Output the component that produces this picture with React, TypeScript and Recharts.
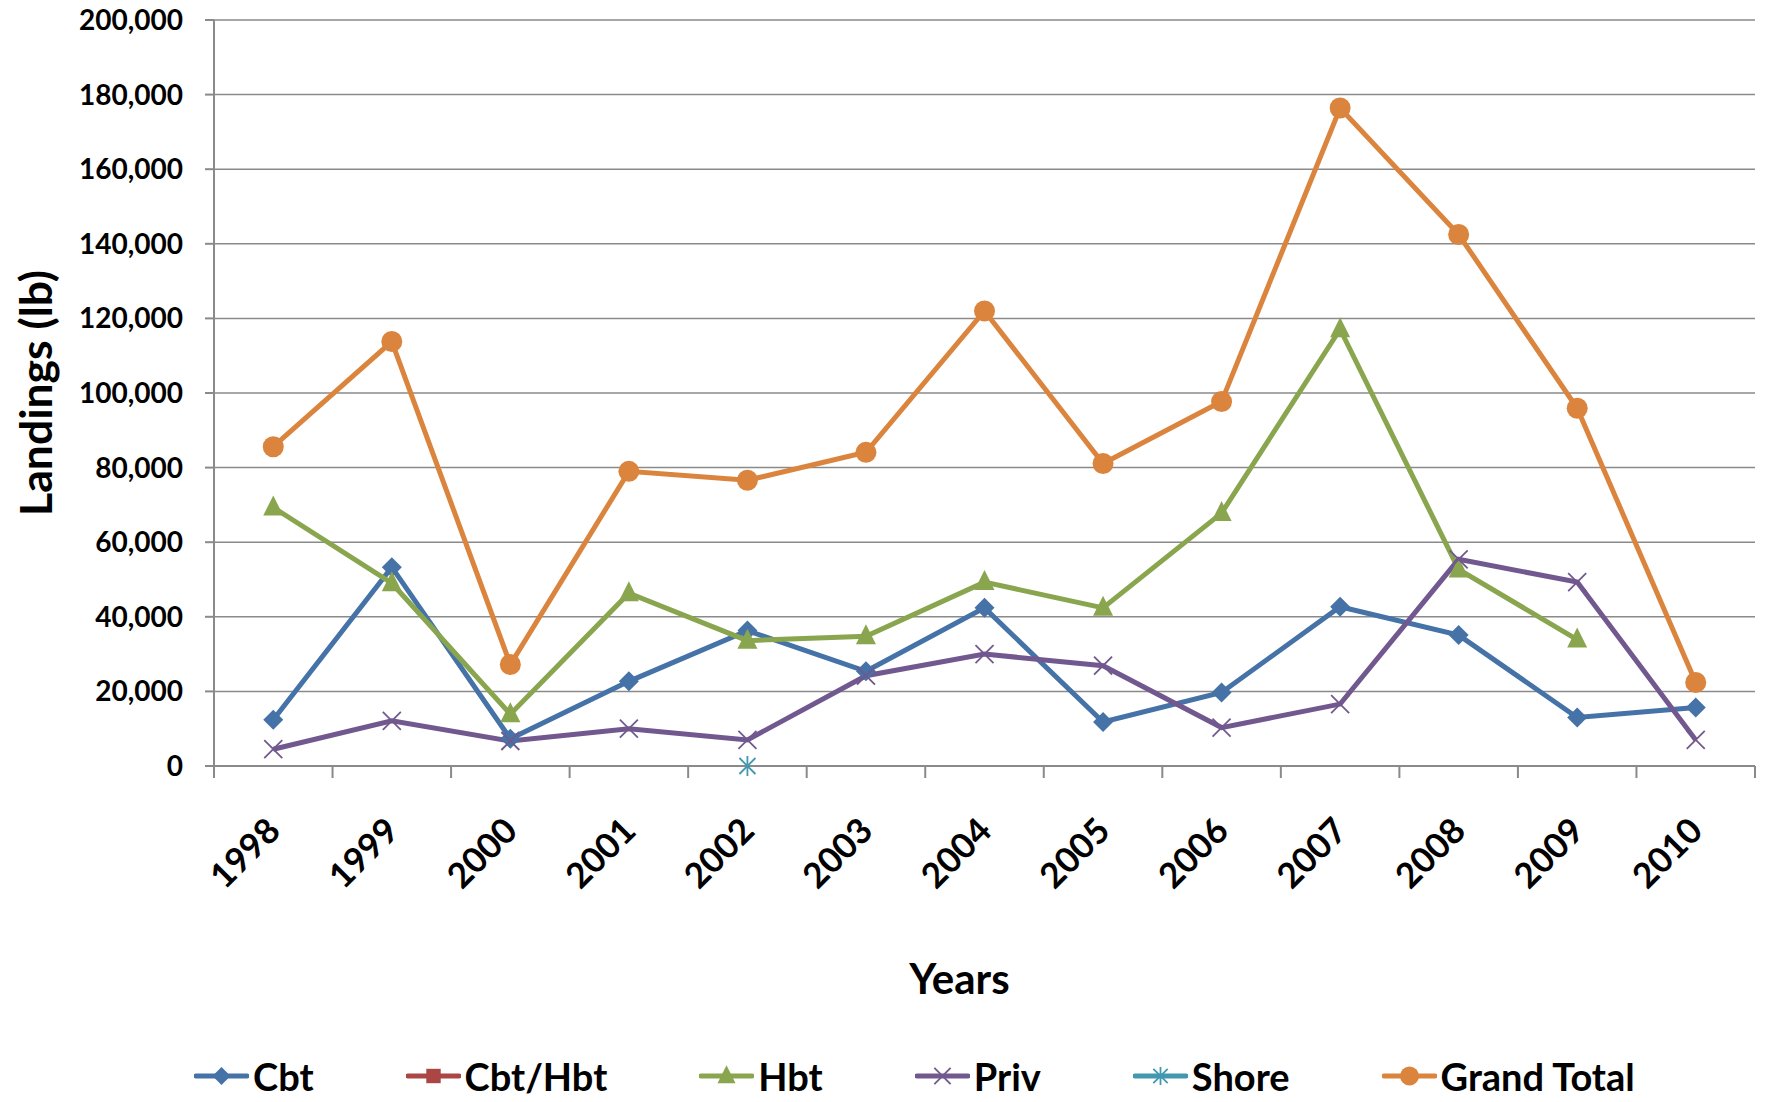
import { CartesianGrid, Line, LineChart, XAxis, YAxis } from "recharts"

const years = ["1998", "1999", "2000", "2001", "2002", "2003", "2004", "2005", "2006", "2007", "2008", "2009", "2010"]
const cbt = [12400, 53300, 7300, 22700, 36300, 25400, 42400, 11800, 19700, 42700, 35100, 13000, 15700]
const cbtHbt = [null, null, null, null, null, null, null, null, null, null, null, null, null]
const hbt = [69300, 49000, 13900, 46300, 33600, 34800, 49300, 42400, 67800, 117100, 52700, 33900, null]
const priv = [4500, 12100, 6700, 10000, 7000, 24200, 30000, 26900, 10300, 16600, 55400, 49300, 7000]
const shore = [null, null, null, null, 0, null, null, null, null, null, null, null, null]
const grandTotal = [85600, 113800, 27200, 79000, 76600, 84100, 122000, 81100, 97700, 176400, 142500, 95900, 22400]
const yTicks = [0, 20000, 40000, 60000, 80000, 100000, 120000, 140000, 160000, 180000, 200000]

const FONT = "Lato, 'Open Sans', sans-serif"
const GRID = "#8a8a8a"
const PLOT_W = 1769 - 214 - 14

type Marker = "diamond" | "square" | "triangle" | "x" | "star" | "circle"

const series: { key: string; name: string; color: string; marker: Marker }[] = [
  { key: "cbt", name: "Cbt", color: "#4572A7", marker: "diamond" },
  { key: "cbtHbt", name: "Cbt/Hbt", color: "#AA4643", marker: "square" },
  { key: "hbt", name: "Hbt", color: "#89A54E", marker: "triangle" },
  { key: "priv", name: "Priv", color: "#71588F", marker: "x" },
  { key: "shore", name: "Shore", color: "#4198AF", marker: "star" },
  { key: "grandTotal", name: "Grand Total", color: "#DB843D", marker: "circle" },
]

const data = years.map((year, i) => ({
  year,
  cbt: cbt[i],
  cbtHbt: cbtHbt[i],
  hbt: hbt[i],
  priv: priv[i],
  shore: shore[i],
  grandTotal: grandTotal[i],
}))

function markerShape(marker: Marker, color: string, cx: number, cy: number, s = 1) {
  switch (marker) {
    case "diamond":
      return <polygon points={`${cx},${cy - 10 * s} ${cx + 10 * s},${cy} ${cx},${cy + 10 * s} ${cx - 10 * s},${cy}`} fill={color} />
    case "square":
      return <rect x={cx - 8 * s} y={cy - 8 * s} width={16 * s} height={16 * s} fill={color} />
    case "triangle":
      return <polygon points={`${cx},${cy - 12 * s} ${cx + 10 * s},${cy + 8 * s} ${cx - 10 * s},${cy + 8 * s}`} fill={color} />
    case "x":
      return (
        <g stroke={color} strokeWidth={1.8}>
          <line x1={cx - 9 * s} y1={cy - 9 * s} x2={cx + 9 * s} y2={cy + 9 * s} />
          <line x1={cx - 9 * s} y1={cy + 9 * s} x2={cx + 9 * s} y2={cy - 9 * s} />
        </g>
      )
    case "star":
      return (
        <g stroke={color} strokeWidth={1.8}>
          <line x1={cx - 8 * s} y1={cy - 8 * s} x2={cx + 8 * s} y2={cy + 8 * s} />
          <line x1={cx - 8 * s} y1={cy + 8 * s} x2={cx + 8 * s} y2={cy - 8 * s} />
          <line x1={cx} y1={cy - 10 * s} x2={cx} y2={cy + 10 * s} />
        </g>
      )
    default:
      return <circle cx={cx} cy={cy} r={10.5 * s} fill={color} />
  }
}

const makeDot = (marker: Marker, color: string) => (props: any) => {
  const { cx, cy, index, value } = props
  if (value == null || cx == null || cy == null) return <g key={`e-${index}`} />
  return <g key={`d-${index}`}>{markerShape(marker, color, cx, cy)}</g>
}

// category label plus Excel-style tick marks on the category edges
function YearTick(props: any) {
  const { x, y, payload, index, visibleTicksCount } = props
  const count = visibleTicksCount || years.length
  const band = (typeof props.width === "number" && props.width > 0 ? props.width : PLOT_W) / count
  const left = x - band / 2
  return (
    <g>
      <line x1={left} y1={y} x2={left} y2={y + 12} stroke={GRID} strokeWidth={2} />
      {index === count - 1 && <line x1={left + band} y1={y} x2={left + band} y2={y + 12} stroke={GRID} strokeWidth={2} />}
      <g transform={`translate(${x + 9},${y + 67})`}>
        <text transform="rotate(-45)" textAnchor="end" fontFamily={FONT} fontWeight={700} fontSize={35} fill="#000">
          {payload.value}
        </text>
      </g>
    </g>
  )
}

export default function App() {
  return (
    <div style={{ position: "absolute", left: 0, top: 0, width: 1769, height: 1102, overflow: "hidden", background: "#fff" }}>
      <LineChart width={1769} height={1102} data={data} margin={{ top: 20, right: 14, bottom: 0, left: 0 }}>
        <CartesianGrid vertical={false} stroke={GRID} strokeWidth={1.5} />
        <XAxis
          dataKey="year"
          scale="band"
          interval={0}
          height={336}
          tickLine={false}
          tickSize={0}
          tickMargin={0}
          axisLine={{ stroke: GRID, strokeWidth: 2 }}
          tick={<YearTick />}
          label={{
            content: ({ viewBox }: any) => (
              <text
                x={viewBox.x + viewBox.width / 2 - 25}
                y={viewBox.y + 228}
                textAnchor="middle"
                fontFamily={FONT}
                fontWeight={700}
                fontSize={42}
                fill="#000"
              >
                Years
              </text>
            ),
          }}
        />
        <YAxis
          width={214}
          domain={[0, 200000]}
          ticks={yTicks}
          interval={0}
          tickFormatter={(v: number) => v.toLocaleString("en-US")}
          tickSize={9}
          tickMargin={22}
          tickLine={{ stroke: GRID, strokeWidth: 2 }}
          axisLine={{ stroke: GRID, strokeWidth: 2 }}
          tick={{ fontFamily: FONT, fontWeight: 700, fontSize: 28, fill: "#000" }}
          label={{
            content: ({ viewBox }: any) => (
              <text
                x={34}
                y={viewBox.y + viewBox.height / 2}
                transform={`rotate(-90, 34, ${viewBox.y + viewBox.height / 2})`}
                textAnchor="middle"
                dominantBaseline="central"
                fontFamily={FONT}
                fontWeight={700}
                fontSize={44.5}
                fill="#000"
              >
                Landings (lb)
              </text>
            ),
          }}
        />
        {series.map((s) => (
          <Line
            key={s.key}
            dataKey={s.key}
            name={s.name}
            stroke={s.color}
            strokeWidth={5}
            dot={makeDot(s.marker, s.color)}
            activeDot={false}
            isAnimationActive={false}
          />
        ))}
      </LineChart>

      {/* legend row along the bottom */}
      <div
        style={{
          position: "absolute",
          left: 194,
          top: 1057,
          display: "flex",
          gap: 92,
          fontFamily: FONT,
          fontWeight: 700,
          fontSize: 38,
          lineHeight: "38px",
          whiteSpace: "nowrap",
        }}
      >
        {series.map((s) => (
          <div key={s.key} style={{ display: "flex", alignItems: "center", height: 38 }}>
            <svg width={55} height={24} style={{ marginRight: 4 }}>
              <line x1={2} y1={12} x2={53} y2={12} stroke={s.color} strokeWidth={5} strokeLinecap="round" />
              {markerShape(s.marker, s.color, 27.5, 12, 0.9)}
            </svg>
            <span>{s.name}</span>
          </div>
        ))}
      </div>
    </div>
  )
}
